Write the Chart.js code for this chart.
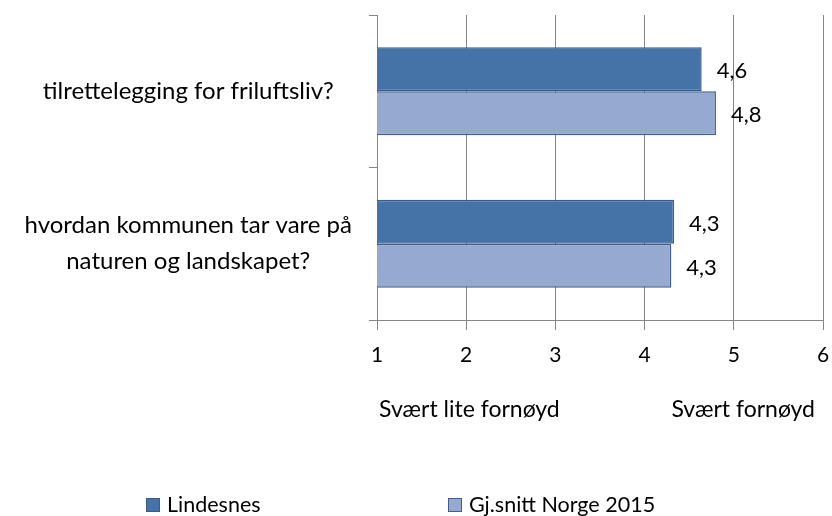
<!DOCTYPE html>
<html>
<head>
<meta charset="utf-8">
<script src="https://cdn.jsdelivr.net/npm/chart.js@4.4.1/dist/chart.umd.min.js"></script>
<style>
  html, body { margin: 0; padding: 0; background: #fff; }
  #wrap { width: 832px; height: 516px; }
</style>
</head>
<body>
<div id="wrap"><canvas id="chart" width="832" height="516"></canvas></div>
<script>
// Kategorier og verdier
const categories = [
    ['tilrettelegging for friluftsliv?'],
    ['hvordan kommunen tar vare på', 'naturen og landskapet?']
];
const seriesNames = ['Lindesnes', 'Gj.snitt Norge 2015'];
const lindesnes = [4.64, 4.33];
const norge = [4.80, 4.30];
const xTicks = [1, 2, 3, 4, 5, 6];
const scaleCaptions = ['Svært lite fornøyd', 'Svært fornøyd'];

const FONT = 'Lato, "Open Sans", sans-serif';
const GRID = '#868686';

// Verdietiketter ved enden av hver stolpe
const valueLabels = {
    id: 'valueLabels',
    afterDatasetsDraw(chart) {
        const ctx = chart.ctx;
        ctx.save();
        ctx.font = '22px ' + FONT;
        ctx.fillStyle = '#000';
        ctx.textAlign = 'left';
        ctx.textBaseline = 'middle';
        chart.data.datasets.forEach((ds, i) => {
            chart.getDatasetMeta(i).data.forEach((bar, j) => {
                const txt = ds.data[j].toFixed(1).replace('.', ',');
                ctx.fillText(txt, bar.x + 15, bar.y + 2);
            });
        });
        ctx.restore();
    }
};

// Skalatekster under aksen og egen forklaring
const captionsAndLegend = {
    id: 'captionsAndLegend',
    afterDraw(chart) {
        const ctx = chart.ctx;
        const x = chart.scales.x;
        ctx.save();
        ctx.fillStyle = '#000';
        ctx.textBaseline = 'middle';
        ctx.font = '23px ' + FONT;
        ctx.textAlign = 'left';
        ctx.fillText(scaleCaptions[0], x.getPixelForValue(1) + 2, 410);
        ctx.textAlign = 'right';
        ctx.fillText(scaleCaptions[1], x.getPixelForValue(6) - 8, 410);

        // forklaring
        const legendX = [146, 448];
        ctx.font = '21.5px ' + FONT;
        ctx.textAlign = 'left';
        chart.data.datasets.forEach((ds, i) => {
            ctx.fillStyle = ds.backgroundColor;
            ctx.fillRect(legendX[i], 498, 14, 14);
            ctx.strokeStyle = ds.borderColor;
            ctx.lineWidth = 1;
            ctx.strokeRect(legendX[i] + 0.5, 498.5, 13, 13);
            ctx.fillStyle = '#000';
            ctx.fillText(ds.label, legendX[i] + 21, 505);
        });
        ctx.restore();
    }
};

new Chart(document.getElementById('chart'), {
    type: 'bar',
    data: {
        labels: categories,
        datasets: [
            {
                label: seriesNames[0],
                data: lindesnes,
                backgroundColor: '#4572A7',
                borderColor: '#385D8A',
                borderWidth: 1.5,
                borderSkipped: false
            },
            {
                label: seriesNames[1],
                data: norge,
                backgroundColor: '#95A9D1',
                borderColor: '#3D5F92',
                borderWidth: 1.5,
                borderSkipped: false
            }
        ]
    },
    options: {
        indexAxis: 'y',
        responsive: false,
        animation: false,
        datasets: {
            bar: { barPercentage: 1, categoryPercentage: 0.576 }
        },
        layout: { padding: { top: 15, right: 9, bottom: 0, left: 0 } },
        plugins: {
            legend: { display: false },
            tooltip: { enabled: false }
        },
        scales: {
            x: {
                type: 'linear',
                min: 1,
                max: 6,
                afterBuildTicks(scale) {
                    scale.ticks = xTicks.map(v => ({ value: v }));
                },
                afterFit(scale) {
                    scale.height = 196;
                    scale.paddingLeft = 0;
                    scale.paddingRight = 0;
                },
                grid: {
                    color: GRID,
                    lineWidth: 1,
                    drawOnChartArea: true,
                    drawTicks: true,
                    tickLength: 10
                },
                border: { color: GRID, width: 1 },
                ticks: {
                    color: '#000',
                    font: { family: FONT, size: 21 },
                    padding: 13
                }
            },
            y: {
                afterFit(scale) {
                    scale.width = 377;
                    scale.paddingTop = 0;
                    scale.paddingBottom = 0;
                },
                grid: {
                    offset: true,
                    color: GRID,
                    drawOnChartArea: false,
                    drawTicks: true,
                    tickLength: 8
                },
                border: { color: GRID, width: 1 },
                ticks: {
                    color: '#000',
                    crossAlign: 'center',
                    padding: 17,
                    font: { family: FONT, size: 24, lineHeight: 1.5 }
                }
            }
        }
    },
    plugins: [valueLabels, captionsAndLegend]
});
</script>
</body>
</html>
